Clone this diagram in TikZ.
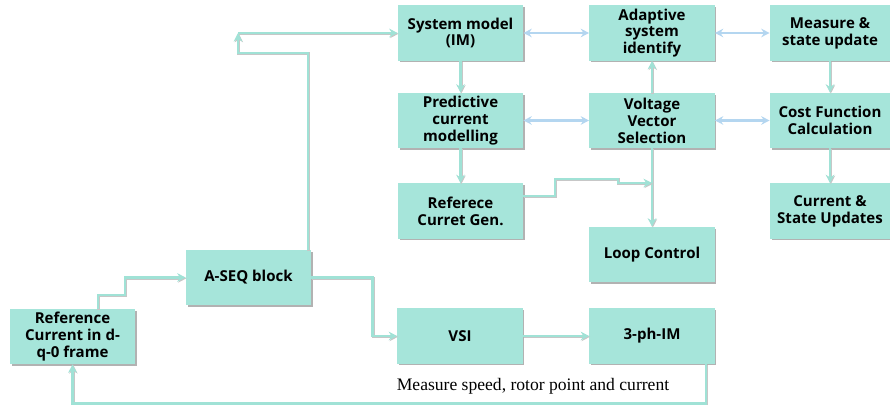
\documentclass[tikz,border=0pt]{standalone}
\usepackage{fontspec}
\setsansfont{Open Sans}
\newfontfamily\capfont{Liberation Serif}
\usepackage{tikz}
\usetikzlibrary{arrows.meta,positioning,calc,shadows}
\definecolor{boxc}{RGB}{166,229,218}
\definecolor{linkc}{RGB}{160,226,214}
\definecolor{dblc}{RGB}{180,214,240}
\tikzset{blk/.style={fill=boxc,minimum width=3.125cm,minimum height=1.375cm,inner sep=1pt,align=center,
    font=\sffamily\bfseries\fontsize{10.7}{12}\selectfont,
    drop shadow={shadow xshift=1.1pt,shadow yshift=-1.1pt,fill=black!30,opacity=1}}}
\tikzset{nblk/.style={blk,minimum width=3cm}}
\tikzset{link/.style={draw=linkc,line width=2pt,
    preaction={draw=black!22,line width=2pt,transform canvas={shift={(0.6pt,-0.6pt)}}}}}
\tikzset{dbl/.style={draw=dblc,line width=2pt,<->}}

\begin{document}
\begin{tikzpicture}[x=0.025cm, y=-0.025cm, >={Stealth[length=6pt,width=6pt]}]
    \useasboundingbox (0,0) rectangle (890,405);

    % left part of the loop
    \node[blk] (ref) at (72.5,336.5) {Reference\\Current in d-\\q-0 frame};
    \node[blk] (aseq) at (248.5,277.5) {A-SEQ block};

    % model / prediction column
    \node[blk] (sysm) at (460.5,33) {System model\\(IM)};
    \node[blk] (pred) at (460.5,120.5) {Predictive\\current\\modelling};
    \node[blk] (rcg) at (460.5,211) {Referece\\Curret Gen.};

    % selection column
    \node[blk] (adapt) at (652,33) {Adaptive\\system\\identify};
    \node[blk] (volt) at (652,120.5) {Voltage\\Vector\\Selection};
    \node[blk] (loop) at (652,254.5) {Loop Control};

    % update column
    \node[nblk] (meas) at (830,33) {Measure \&\\state update};
    \node[nblk] (cost) at (830,120.5) {Cost Function\\Calculation};
    \node[nblk] (cur) at (830,211) {Current \&\\State Updates};

    % drive
    \node[blk] (vsi) at (460,336) {VSI};
    \node[blk] (im) at (652,336) {3-ph-IM};

    \coordinate (bend) at (238,33);
    \coordinate (join) at (652,183);

    \draw[link,->] ($(ref.north)+(25.5,0)$) |- (125,295) |- (aseq.west);
    \draw[link,->] ($(aseq.north)+(59.5,0)$) |- (238,53) -- (bend);
    \draw[link,->] (bend) -- (sysm.west);
    \draw[link,->] (aseq.east) -- ++(61,0) |- (vsi.west);
    \draw[link,->] (vsi) -- (im);
    \draw[link,->] ($(im.south)+(54,0)$) -- ++(0,40) -| (ref.south);
    \node[font=\capfont\fontsize{12.5}{14}\selectfont] (note) at (533,386) {Measure speed, rotor point and current};

    \draw[dbl] (sysm) -- (adapt);
    \draw[dbl] (adapt) -- (meas);
    \draw[dbl] (pred) -- (volt);
    \draw[dbl] (volt) -- (cost);

    \draw[link,->] (sysm) -- (pred);
    \draw[link,->] (pred) -- (rcg);
    \draw[link,->] (volt) -- (adapt);
    \draw[link,->] (volt) -- (loop);
    \draw[link,->] (meas) -- (cost);
    \draw[link,->] (cost) -- (cur);
    \draw[link,->] ($(rcg.east)+(0,-15)$) -| (555,179) -| (618,183) -- (join);
\end{tikzpicture}
\end{document}
